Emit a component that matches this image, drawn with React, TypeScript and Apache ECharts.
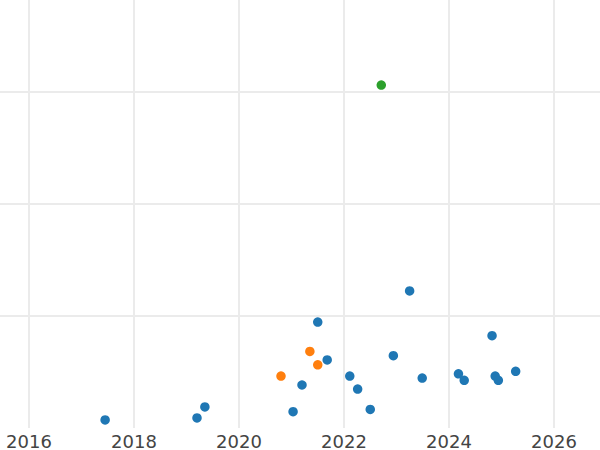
import React, { useEffect, useRef } from "react";
import * as echarts from "echarts";

const xTickYears = [2014, 2016, 2018, 2020, 2022, 2024, 2026, 2028];
const xLabelYears = [2016, 2018, 2020, 2022, 2024, 2026];

const blueX = [2017.45, 2019.2, 2019.35, 2021.03, 2021.2, 2021.5, 2021.68, 2022.11, 2022.26, 2022.5, 2022.94, 2023.25, 2023.49, 2024.18, 2024.29, 2024.82, 2024.88, 2024.94, 2025.27];
const blueY = [3.6, 4.5, 9.4, 7.3, 19.2, 47.3, 30.4, 23.2, 17.4, 8.3, 32.3, 61.2, 22.3, 24.2, 21.3, 41.2, 23.2, 21.3, 25.3];

const orangeX = [2020.8, 2021.35, 2021.5];
const orangeY = [23.2, 34.2, 28.2];

const greenX = [2022.71];
const greenY = [153.1];

const zip = (xs: number[], ys: number[]) => xs.map((x, i) => [x, ys[i]]);

export default function App() {
  const ref = useRef<HTMLDivElement>(null);
  useEffect(() => {
    if (!ref.current) return;
    const chart = echarts.init(ref.current, null, { renderer: "svg" });
    const gridColor = "#ebebeb";
    chart.setOption({
      animation: false,
      backgroundColor: "#ffffff",
      grid: { left: 0, right: 0, top: 0, bottom: 22, containLabel: false, outerBoundsMode: "none" },
      xAxis: {
        type: "value",
        min: xTickYears[0],
        max: xTickYears[xTickYears.length - 1],
        interval: 2,
        axisLine: { show: false },
        axisTick: { show: false },
        axisLabel: {
          fontFamily: "DejaVu Sans",
          fontSize: 18,
          color: "#444444",
          margin: 4,
          showMinLabel: false,
          showMaxLabel: false,
          formatter: (v: number) => (xLabelYears.indexOf(v) >= 0 ? String(v) : ""),
        },
        splitLine: { show: true, lineStyle: { color: gridColor, width: 2 } },
      },
      yAxis: {
        type: "value",
        min: 0,
        max: 200,
        interval: 50,
        axisLine: { show: false },
        axisTick: { show: false },
        axisLabel: { show: false },
        splitLine: { show: true, showMinLine: false, lineStyle: { color: gridColor, width: 2 } },
      },
      series: [
        { type: "scatter", data: zip(blueX, blueY), symbolSize: 9.5, itemStyle: { color: "#1f77b4", opacity: 1 } },
        { type: "scatter", data: zip(orangeX, orangeY), symbolSize: 9.5, itemStyle: { color: "#ff7f0e", opacity: 1 } },
        { type: "scatter", data: zip(greenX, greenY), symbolSize: 9.5, itemStyle: { color: "#2ca02c", opacity: 1 } },
      ],
    });
    return () => chart.dispose();
  }, []);
  return (
    <div style={{ position: "fixed", left: 0, top: 0, width: 600, height: 450, overflow: "hidden", background: "#fff" }}>
      <div ref={ref} style={{ position: "absolute", left: -76, top: -20, width: 735, height: 470 }} />
    </div>
  );
}
